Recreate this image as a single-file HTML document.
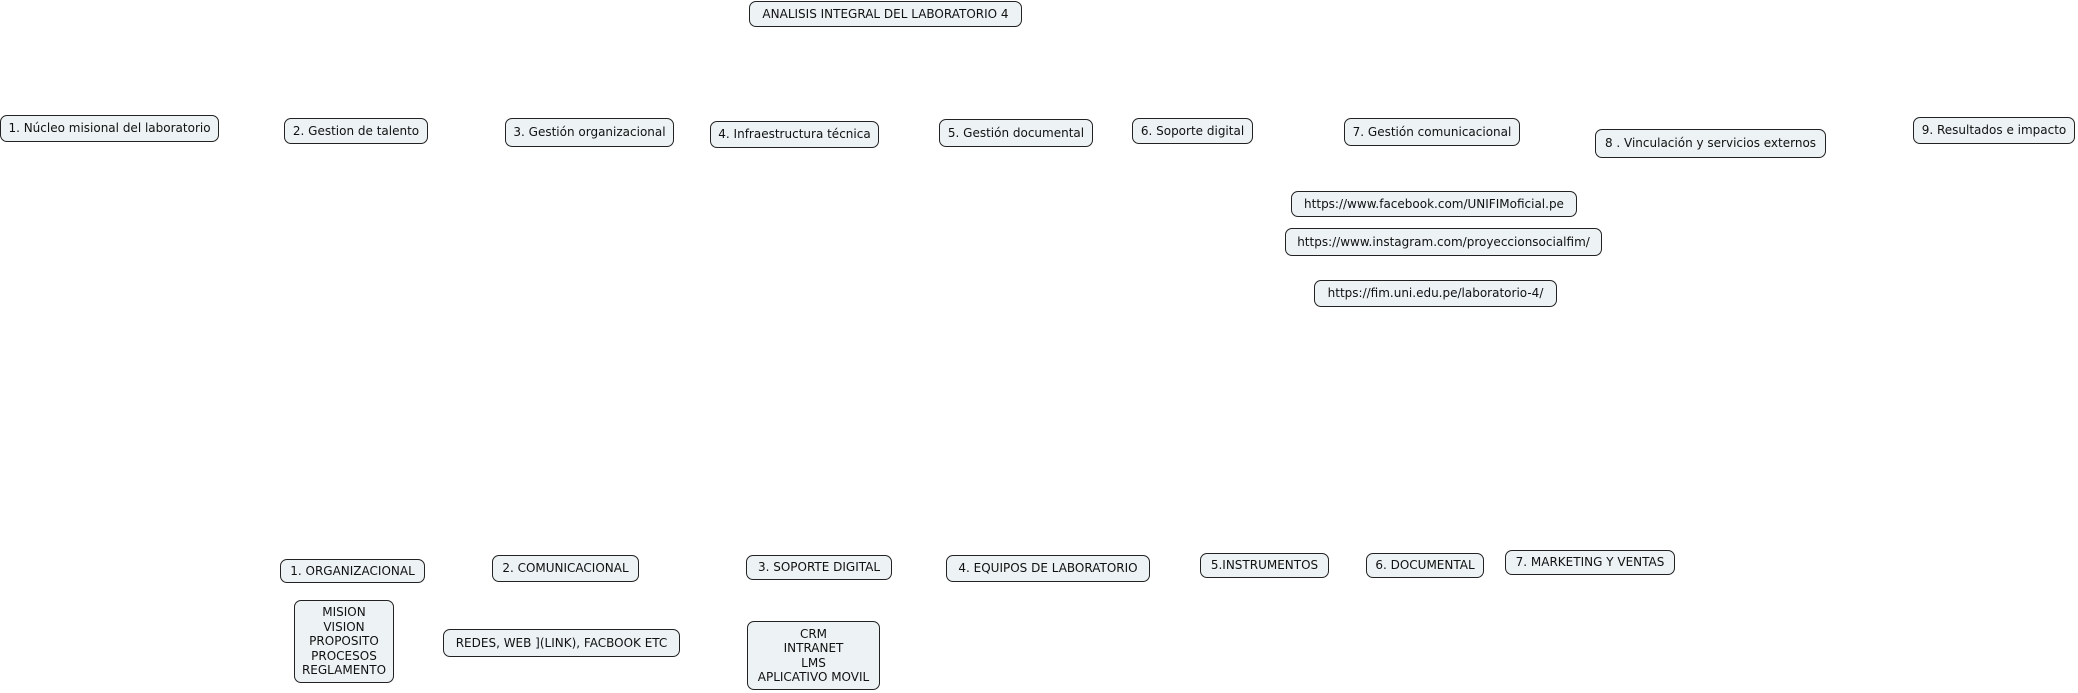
<!DOCTYPE html>
<html><head><meta charset="utf-8"><style>
body{margin:0;width:2078px;height:693px;background:#fff;position:relative;overflow:hidden;font-family:"DejaVu Sans","Liberation Sans",sans-serif;font-size:12px;color:#111}
.b{position:absolute;box-sizing:border-box;border:1px solid #222;border-radius:7px;background:#edf2f4;display:flex;align-items:center;justify-content:center;text-align:center;white-space:nowrap;line-height:14.5px}
</style></head><body>
<div class="b" style="left:749px;top:1px;width:273px;height:26px">ANALISIS INTEGRAL DEL LABORATORIO 4</div>
<div class="b" style="left:0px;top:115px;width:219px;height:27px">1. Núcleo misional del laboratorio</div>
<div class="b" style="left:284px;top:118px;width:144px;height:26px">2. Gestion de talento</div>
<div class="b" style="left:505px;top:118px;width:169px;height:29px">3. Gestión organizacional</div>
<div class="b" style="left:710px;top:121px;width:169px;height:27px">4. Infraestructura técnica</div>
<div class="b" style="left:939px;top:119px;width:154px;height:28px">5. Gestión documental</div>
<div class="b" style="left:1132px;top:118px;width:121px;height:26px">6. Soporte digital</div>
<div class="b" style="left:1344px;top:118px;width:176px;height:28px">7. Gestión comunicacional</div>
<div class="b" style="left:1595px;top:129px;width:231px;height:29px">8 . Vinculación y servicios externos</div>
<div class="b" style="left:1913px;top:117px;width:162px;height:27px">9. Resultados e impacto</div>
<div class="b" style="left:1291px;top:191px;width:286px;height:26px">https://www.facebook.com/UNIFIMoficial.pe</div>
<div class="b" style="left:1285px;top:228px;width:317px;height:28px">https://www.instagram.com/proyeccionsocialfim/</div>
<div class="b" style="left:1314px;top:280px;width:243px;height:27px">https://fim.uni.edu.pe/laboratorio-4/</div>
<div class="b" style="left:280px;top:559px;width:145px;height:24px">1. ORGANIZACIONAL</div>
<div class="b" style="left:492px;top:555px;width:147px;height:27px">2. COMUNICACIONAL</div>
<div class="b" style="left:746px;top:555px;width:146px;height:25px">3. SOPORTE DIGITAL</div>
<div class="b" style="left:946px;top:555px;width:204px;height:27px">4. EQUIPOS DE LABORATORIO</div>
<div class="b" style="left:1200px;top:553px;width:129px;height:25px">5.INSTRUMENTOS</div>
<div class="b" style="left:1366px;top:553px;width:118px;height:25px">6. DOCUMENTAL</div>
<div class="b" style="left:1505px;top:550px;width:170px;height:25px">7. MARKETING Y VENTAS</div>
<div class="b" style="left:294px;top:600px;width:100px;height:83px">MISION<br>VISION<br>PROPOSITO<br>PROCESOS<br>REGLAMENTO</div>
<div class="b" style="left:443px;top:629px;width:237px;height:28px">REDES, WEB ](LINK), FACBOOK ETC</div>
<div class="b" style="left:747px;top:621px;width:133px;height:69px">CRM<br>INTRANET<br>LMS<br>APLICATIVO MOVIL</div>
</body></html>
